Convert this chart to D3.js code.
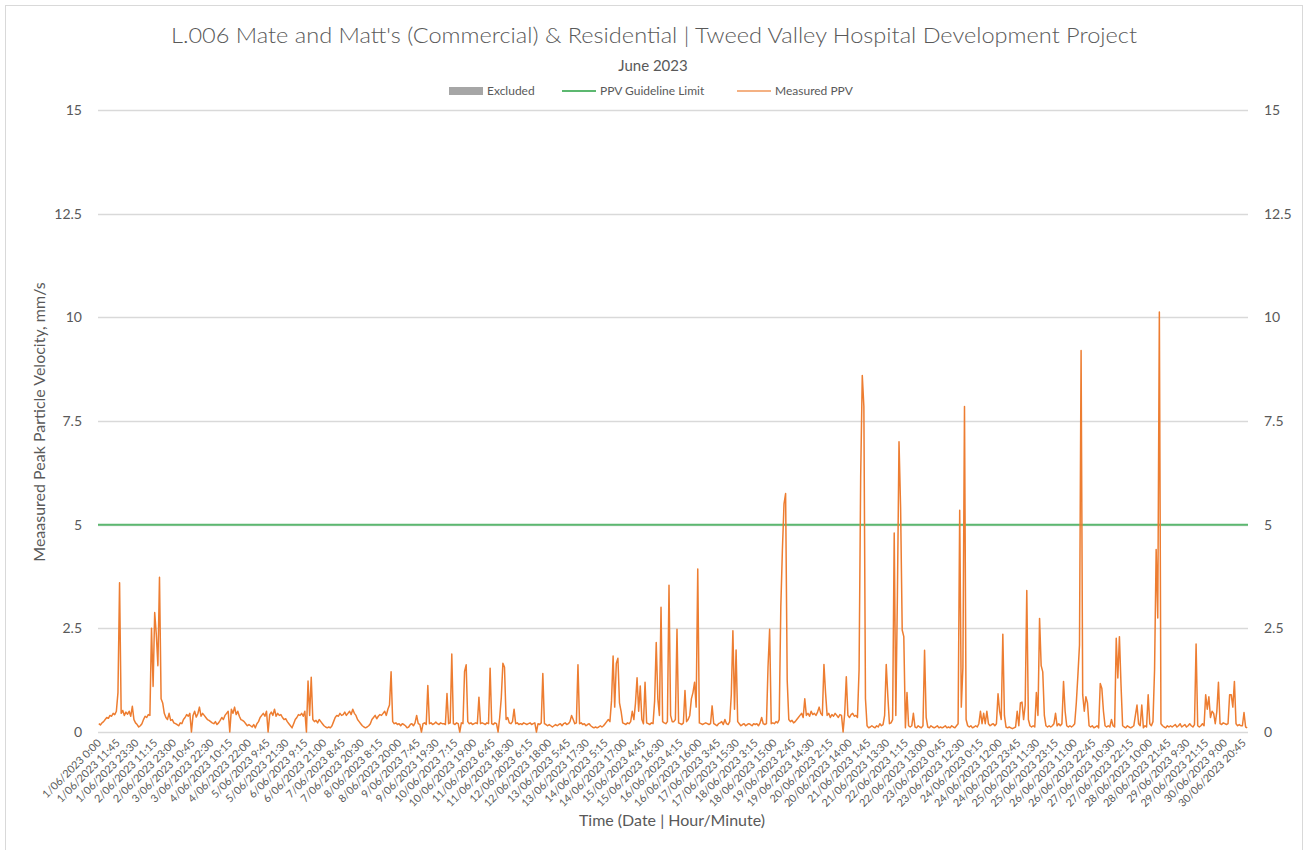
<!DOCTYPE html>
<html>
<head>
<meta charset="utf-8">
<script src="https://cdn.jsdelivr.net/npm/d3@7"></script>
<style>
  html, body { margin: 0; padding: 0; background: #fff; }
  svg text { font-family: Lato, "Open Sans", sans-serif; fill: #595959; }
</style>
</head>
<body>
<svg id="chart" width="1306" height="850"></svg>
<script>
// chart texts
const chartTitle = "L.006 Mate and Matt's (Commercial) & Residential | Tweed Valley Hospital Development Project"
const chartSubtitle = 'June 2023'
const yTitle = 'Meaasured Peak Particle Velocity, mm/s'
const xTitle = 'Time (Date | Hour/Minute)'

// y ticks, guideline
const yTicks = [0, 2.5, 5, 7.5, 10, 12.5, 15]
const guidelineLimit = 5

// x axis: 15 minute slots, one label every 47 slots
const slotsTotal = 2880
const labelStep = 47
const tickLabels = [
  '1/06/2023 0:00', '1/06/2023 11:45', '1/06/2023 23:30', '2/06/2023 11:15', '2/06/2023 23:00',
  '3/06/2023 10:45', '3/06/2023 22:30', '4/06/2023 10:15', '4/06/2023 22:00', '5/06/2023 9:45',
  '5/06/2023 21:30', '6/06/2023 9:15', '6/06/2023 21:00', '7/06/2023 8:45', '7/06/2023 20:30',
  '8/06/2023 8:15', '8/06/2023 20:00', '9/06/2023 7:45', '9/06/2023 19:30', '10/06/2023 7:15',
  '10/06/2023 19:00', '11/06/2023 6:45', '11/06/2023 18:30', '12/06/2023 6:15', '12/06/2023 18:00',
  '13/06/2023 5:45', '13/06/2023 17:30', '14/06/2023 5:15', '14/06/2023 17:00', '15/06/2023 4:45',
  '15/06/2023 16:30', '16/06/2023 4:15', '16/06/2023 16:00', '17/06/2023 3:45', '17/06/2023 15:30',
  '18/06/2023 3:15', '18/06/2023 15:00', '19/06/2023 2:45', '19/06/2023 14:30', '20/06/2023 2:15',
  '20/06/2023 14:00', '21/06/2023 1:45', '21/06/2023 13:30', '22/06/2023 1:15', '22/06/2023 13:00',
  '23/06/2023 0:45', '23/06/2023 12:30', '24/06/2023 0:15', '24/06/2023 12:00', '24/06/2023 23:45',
  '25/06/2023 11:30', '25/06/2023 23:15', '26/06/2023 11:00', '26/06/2023 22:45', '27/06/2023 10:30',
  '27/06/2023 22:15', '28/06/2023 10:00', '28/06/2023 21:45', '29/06/2023 9:30', '29/06/2023 21:15',
  '30/06/2023 9:00', '30/06/2023 20:45'
]

const ppvByDay = [
  [0.2, 0.17, 0.22, 0.25, 0.3, 0.35, 0.33, 0.4, 0.38, 0.45, 0.42, 0.5, 0.95, 3.6, 0.45, 0.52, 0.4, 0.48, 0.43, 0.5, 0.38, 0.62, 0.3, 0.22],
  [0.18, 0.12, 0.15, 0.2, 0.3, 0.38, 0.35, 0.42, 0.4, 2.5, 1.1, 2.88, 2.35, 1.6, 3.73, 0.8, 0.7, 0.45, 0.35, 0.3, 0.45, 0.28, 0.3, 0.22],
  [0.2, 0.18, 0.15, 0.22, 0.2, 0.3, 0.35, 0.42, 0.38, 0.45, 0.0, 0.4, 0.5, 0.36, 0.44, 0.6, 0.38, 0.45, 0.4, 0.35, 0.3, 0.28, 0.25, 0.22],
  [0.2, 0.25, 0.18, 0.22, 0.28, 0.35, 0.3, 0.4, 0.45, 0.5, 0.0, 0.55, 0.45, 0.6, 0.42, 0.5, 0.38, 0.3, 0.28, 0.25, 0.2, 0.15, 0.18, 0.15],
  [0.12, 0.18, 0.1, 0.2, 0.25, 0.35, 0.4, 0.45, 0.38, 0.5, 0.0, 0.42, 0.48, 0.4, 0.55, 0.38, 0.45, 0.4, 0.42, 0.35, 0.3, 0.32, 0.25, 0.2],
  [0.15, 0.1, 0.2, 0.3, 0.35, 0.42, 0.4, 0.45, 0.38, 0.5, 0.0, 1.23, 0.4, 1.32, 0.3, 0.25, 0.28, 0.22, 0.3, 0.25, 0.2, 0.15, 0.12, 0.1],
  [0.12, 0.1, 0.15, 0.25, 0.35, 0.4, 0.38, 0.45, 0.4, 0.42, 0.48, 0.4, 0.45, 0.5, 0.42, 0.55, 0.45, 0.4, 0.3, 0.25, 0.2, 0.15, 0.12, 0.1],
  [0.12, 0.15, 0.2, 0.3, 0.35, 0.4, 0.32, 0.38, 0.42, 0.4, 0.45, 0.5, 0.4, 0.55, 0.65, 1.45, 0.25, 0.2, 0.22, 0.18, 0.2, 0.15, 0.2, 0.18],
  [0.15, 0.1, 0.12, 0.18, 0.2, 0.15, 0.22, 0.4, 0.2, 0.18, 0.0, 0.2, 0.22, 0.18, 1.12, 0.2, 0.22, 0.18, 0.2, 0.24, 0.2, 0.18, 0.22, 0.2],
  [0.2, 0.18, 0.93, 0.2, 0.22, 1.88, 0.2, 0.18, 0.22, 0.2, 0.0, 0.22, 0.2, 1.46, 1.62, 0.25, 0.2, 0.22, 0.18, 0.2, 0.22, 0.2, 0.84, 0.2],
  [0.22, 0.2, 0.18, 0.22, 0.2, 1.54, 0.2, 0.18, 0.22, 0.2, 0.0, 0.35, 0.83, 1.66, 1.56, 0.3, 0.35, 0.22, 0.2, 0.25, 0.55, 0.2, 0.22, 0.18],
  [0.2, 0.18, 0.22, 0.2, 0.18, 0.2, 0.22, 0.18, 0.2, 0.22, 0.0, 0.2, 0.18, 0.22, 1.41, 0.2, 0.18, 0.15, 0.18, 0.15, 0.12, 0.15, 0.18, 0.15],
  [0.18, 0.2, 0.15, 0.2, 0.22, 0.18, 0.2, 0.25, 0.4, 0.3, 0.2, 0.22, 1.62, 0.2, 0.22, 0.18, 0.2, 0.15, 0.18, 0.2, 0.15, 0.12, 0.1, 0.12],
  [0.1, 0.12, 0.15, 0.12, 0.15, 0.2, 0.25, 0.3, 0.25, 0.75, 1.83, 0.6, 1.65, 1.78, 0.7, 0.5, 0.22, 0.2, 0.18, 0.22, 0.2, 0.25, 0.5, 0.3],
  [0.69, 1.31, 0.5, 1.11, 0.3, 0.2, 1.2, 0.22, 0.2, 0.18, 0.22, 0.2, 0.75, 2.16, 0.8, 0.4, 3.01, 0.25, 0.22, 0.2, 0.25, 3.54, 0.4, 0.25],
  [0.25, 0.3, 2.48, 0.22, 0.2, 0.18, 0.22, 1.0, 0.25, 0.3, 0.4, 0.8, 0.95, 1.2, 0.6, 3.93, 0.22, 0.2, 0.18, 0.2, 0.22, 0.2, 0.18, 0.2],
  [0.63, 0.2, 0.18, 0.15, 0.2, 0.22, 0.25, 0.18, 0.3, 0.2, 0.18, 0.25, 0.9, 2.44, 0.55, 1.98, 0.25, 0.2, 0.15, 0.18, 0.2, 0.15, 0.18, 0.2],
  [0.18, 0.15, 0.2, 0.18, 0.2, 0.15, 0.22, 0.35, 0.2, 0.18, 0.2, 1.58, 2.48, 0.2, 0.22, 0.2, 0.25, 0.22, 0.3, 3.02, 4.4, 5.5, 5.75, 1.25],
  [0.3, 0.25, 0.28, 0.22, 0.25, 0.3, 0.35, 0.4, 0.45, 0.35, 0.8, 0.4, 0.45, 0.38, 0.5, 0.42, 0.45, 0.4, 0.48, 0.6, 0.45, 0.4, 1.63, 0.95],
  [0.4, 0.45, 0.35, 0.42, 0.38, 0.45, 0.4, 0.35, 0.42, 0.4, 0.0, 0.45, 1.33, 0.4, 0.35, 0.42, 0.45, 0.38, 0.4, 0.35, 1.5, 6.15, 8.6, 7.85],
  [0.8, 0.15, 0.1, 0.12, 0.15, 0.12, 0.1, 0.15, 0.12, 0.2, 0.15, 0.18, 0.4, 1.63, 0.87, 0.2, 0.22, 0.3, 4.8, 0.4, 3.3, 7.0, 5.4, 2.46],
  [2.3, 0.1, 0.95, 0.15, 0.12, 0.15, 0.45, 0.12, 0.1, 0.15, 0.12, 0.1, 0.15, 1.97, 0.35, 0.12, 0.1, 0.15, 0.12, 0.1, 0.12, 0.15, 0.1, 0.12],
  [0.1, 0.12, 0.15, 0.1, 0.12, 0.1, 0.15, 0.12, 0.1, 0.15, 0.2, 5.35, 0.6, 1.55, 7.85, 0.3, 0.15, 0.12, 0.15, 0.1, 0.12, 0.15, 0.12, 0.2],
  [0.5, 0.2, 0.45, 0.2, 0.5, 0.2, 0.15, 0.18, 0.2, 0.15, 0.2, 0.92, 0.5, 0.3, 2.36, 0.4, 0.12, 0.1, 0.12, 0.1, 0.08, 0.1, 0.12, 0.5],
  [0.15, 0.7, 0.72, 0.3, 0.65, 3.41, 0.3, 0.15, 0.12, 0.15, 0.12, 0.95, 0.4, 2.74, 1.6, 1.45, 0.4, 0.15, 0.12, 0.15, 0.12, 0.15, 0.2, 0.45],
  [0.15, 0.2, 0.15, 0.2, 1.22, 0.5, 0.15, 0.12, 0.15, 0.12, 0.15, 0.2, 0.7, 1.37, 2.1, 9.2, 0.9, 0.5, 0.85, 0.7, 0.15, 0.12, 0.15, 0.1],
  [0.12, 0.15, 0.1, 1.17, 1.05, 0.5, 0.15, 0.12, 0.15, 0.12, 0.3, 0.15, 0.12, 2.26, 1.3, 2.3, 1.13, 0.15, 0.12, 0.1, 0.15, 0.12, 0.1, 0.12],
  [0.15, 0.4, 0.65, 0.2, 0.15, 0.65, 0.1, 0.15, 0.12, 0.9, 0.2, 0.15, 0.25, 1.5, 4.4, 2.75, 10.13, 0.2, 0.15, 0.12, 0.1, 0.15, 0.12, 0.15],
  [0.12, 0.15, 0.18, 0.12, 0.15, 0.2, 0.12, 0.15, 0.18, 0.12, 0.15, 0.2, 0.15, 0.12, 0.18, 2.12, 0.15, 0.12, 0.15, 0.2, 0.15, 0.9, 0.55, 0.85],
  [0.35, 0.5, 0.45, 0.2, 0.5, 1.2, 0.2, 0.18, 0.22, 0.2, 0.18, 0.2, 0.9, 0.9, 0.6, 1.22, 0.2, 0.15, 0.18, 0.15, 0.15, 0.47, 0.12, 0.1]
]

const legendItems = [
  { name: 'Excluded', kind: 'box', color: '#a6a6a6' },
  { name: 'PPV Guideline Limit', kind: 'line', color: '#5cb870' },
  { name: 'Measured PPV', kind: 'line', color: '#f4b183' }
]

const svg = d3.select('#chart')
const plotLeft = 98, plotRight = 1248, plotTop = 110, plotBottom = 732

// outer border
svg.append('rect').attr('x', 5.5).attr('y', 5.5).attr('width', 1297).attr('height', 850)
  .attr('fill', '#fff').attr('stroke', '#d9d9d9')

const x = d3.scaleLinear().domain([0, slotsTotal]).range([plotLeft, plotRight])
const y = d3.scaleLinear().domain([0, 15]).range([plotBottom, plotTop])

// gridlines
svg.append('g').selectAll('line').data(yTicks).join('line')
  .attr('x1', plotLeft).attr('x2', plotRight)
  .attr('y1', d => Math.round(y(d)) + 0.5).attr('y2', d => Math.round(y(d)) + 0.5)
  .attr('stroke', '#d9d9d9').attr('stroke-width', 1.3)

// left and right value axes
const fmt = d => String(d)
const axL = svg.append('g').attr('transform', `translate(${plotLeft - 16},0)`)
  .call(d3.axisLeft(y).tickValues(yTicks).tickSize(0).tickPadding(0).tickFormat(fmt))
const axR = svg.append('g').attr('transform', `translate(${plotRight + 16},0)`)
  .call(d3.axisRight(y).tickValues(yTicks).tickSize(0).tickPadding(0).tickFormat(fmt))
;[axL, axR].forEach(g => {
  g.select('.domain').remove()
  g.selectAll('text').attr('font-size', 14).attr('fill', '#595959')
    .style('font-family', 'Lato, sans-serif')
})

// category axis labels
const labelIdx = tickLabels.map((d, i) => i * labelStep)
const axB = svg.append('g').attr('transform', `translate(0,${plotBottom})`)
  .call(d3.axisBottom(x).tickValues(labelIdx).tickSize(0).tickFormat((d, i) => tickLabels[i]))
axB.select('.domain').remove()
axB.selectAll('.tick text')
  .attr('font-size', 10.8).attr('fill', '#595959')
  .style('font-family', 'Lato, sans-serif')
  .attr('text-anchor', 'end')
  .attr('y', 0).attr('dy', '0.35em')
  .attr('transform', 'translate(1,9) rotate(-45)')
axB.selectAll('.tick').attr('transform', d => `translate(${x(d + 0.5)},0)`)

// guideline
svg.append('line')
  .attr('x1', plotLeft).attr('x2', plotRight)
  .attr('y1', y(guidelineLimit)).attr('y2', y(guidelineLimit))
  .attr('stroke', legendItems[1].color).attr('stroke-width', 2)

// measured PPV
const pts = ppvByDay.flat().map((v, j) => [j * 4 + 2, v])
svg.append('path').datum(pts)
  .attr('fill', 'none').attr('stroke', '#ed7d31').attr('stroke-width', 1.5)
  .attr('stroke-linejoin', 'round')
  .attr('d', d3.line().x(d => x(d[0])).y(d => y(d[1])))

// titles
svg.append('text').attr('x', 654).attr('y', 43).attr('text-anchor', 'middle')
  .attr('font-size', 21).attr('font-weight', 300)
  .attr('textLength', 966).attr('lengthAdjust', 'spacingAndGlyphs')
  .text(chartTitle)
svg.append('text').attr('x', 653).attr('y', 71).attr('text-anchor', 'middle')
  .attr('font-size', 15).text(chartSubtitle)
svg.append('text').attr('transform', 'translate(45,422) rotate(-90)').attr('text-anchor', 'middle')
  .attr('font-size', 16).text(yTitle)
svg.append('text').attr('x', 672).attr('y', 826).attr('text-anchor', 'middle')
  .attr('font-size', 16).text(xTitle)

// legend
const legendX = [449, 562, 737]
const lg = svg.append('g').selectAll('g').data(legendItems).join('g')
  .attr('transform', (d, i) => `translate(${legendX[i]},91)`)
lg.filter(d => d.kind === 'box').append('rect')
  .attr('x', 0).attr('y', -4).attr('width', 34).attr('height', 8).attr('fill', d => d.color)
lg.filter(d => d.kind === 'line').append('line')
  .attr('x1', 0).attr('x2', 34).attr('y1', 0).attr('y2', 0)
  .attr('stroke', d => d.color).attr('stroke-width', 2)
lg.append('text').attr('x', 38).attr('y', 4).attr('font-size', 12).text(d => d.name)
</script>
</body>
</html>
